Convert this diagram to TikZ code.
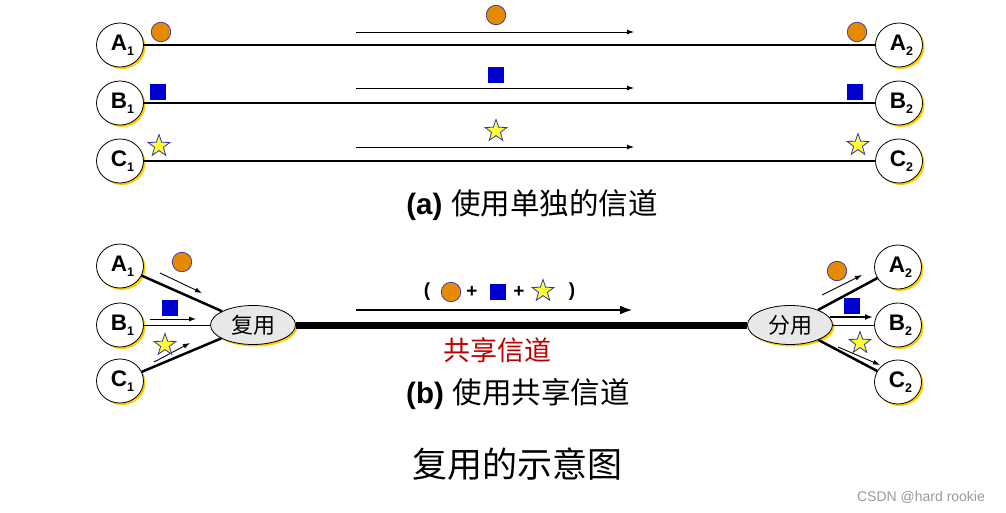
\documentclass[tikz,border=0pt]{standalone}
\usepackage{fontspec}
\newfontfamily\cjk{Noto Sans CJK SC}
\newfontfamily\arial{Liberation Sans}
\usetikzlibrary{shapes.geometric,arrows.meta,shadows}
\definecolor{shy}{HTML}{FFCC00}
\definecolor{dotor}{HTML}{E68A00}
\definecolor{mblue}{HTML}{0000CC}
\definecolor{sedge}{HTML}{3333AA}
\definecolor{styel}{HTML}{FFFF33}
\definecolor{chred}{HTML}{C00000}
\definecolor{ellgray}{HTML}{E8E8E8}
\definecolor{wmgray}{HTML}{999999}
\newcommand\subn[1]{\raisebox{-5pt}{\fontsize{12.5}{12.5}\selectfont #1}}
\begin{document}
\begin{tikzpicture}[x=1pt,y=-1pt,
  ysh/.style={drop shadow={shadow xshift=2pt,shadow yshift=-2pt,fill=shy,opacity=1}},
  station/.style={ellipse, draw=black, line width=0.8pt, fill=white, minimum width=47pt, minimum height=44pt, inner sep=0pt, font=\fontsize{22.5}{22.5}\selectfont\arial\bfseries, ysh},
  muxbox/.style={ellipse, draw=black, line width=0.8pt, fill=ellgray, minimum width=85pt, minimum height=39pt, inner sep=0pt, font=\fontsize{22}{22}\selectfont\cjk, ysh},
  dotm/.style={circle, fill=dotor, draw=sedge, line width=0.7pt, minimum size=19.5pt, inner sep=0pt},
  sqm/.style={rectangle, fill=mblue, draw=none, minimum size=15.5pt, inner sep=0pt},
  starm/.style={star, star points=5, star point ratio=2.5, fill=styel, draw=sedge, line width=0.8pt, minimum size=23pt, inner sep=0pt},
  chan/.style={line width=2pt},
  sarrow/.style={line width=0.9pt, -{Latex[length=7pt,width=5pt]}},
  barrow/.style={line width=2pt, -{Latex[length=8pt,width=6pt]}},
  bigarrow/.style={line width=2.5pt, -{Latex[length=13pt,width=9pt]}},
  sym/.style={inner sep=0pt, font=\fontsize{19}{19}\selectfont\arial\bfseries},
  captxt/.style={inner sep=0pt, font=\fontsize{29.5}{29.5}\selectfont}
]
\useasboundingbox (0,0) rectangle (1006,513);

% ---------- (a) ----------
\node[station] (A1) at (120,45) {\hspace{5pt}A\subn{1}};
\node[station] (B1) at (120,103) {\hspace{5pt}B\subn{1}};
\node[station] (C1) at (120,161) {\hspace{5pt}C\subn{1}};
\node[station] (A2) at (899,45) {\hspace{5pt}A\subn{2}};
\node[station] (B2) at (899,103) {\hspace{5pt}B\subn{2}};
\node[station] (C2) at (899,161) {\hspace{5pt}C\subn{2}};
\draw[chan] (A1) -- (A2);
\draw[chan] (B1) -- (B2);
\draw[chan] (C1) -- (C2);

\node[dotm] (da1) at (161,32) {};
\node[dotm] (da2) at (496,15) {};
\node[dotm] (da3) at (857,32) {};
\node[sqm] (sb1) at (158,92) {};
\node[sqm] (sb2) at (496,75) {};
\node[sqm] (sb3) at (855,92) {};
\node[starm] (sc1) at (159,146) {};
\node[starm] (sc2) at (496,131) {};
\node[starm] (sc3) at (858,145) {};

\coordinate (ta1) at (356,32);  \coordinate (ta2) at (634,32);
\coordinate (tb1) at (356,88);  \coordinate (tb2) at (634,88);
\coordinate (tc1) at (356,147); \coordinate (tc2) at (634,147);
\draw[sarrow] (ta1) -- (ta2);
\draw[sarrow] (tb1) -- (tb2);
\draw[sarrow] (tc1) -- (tc2);

\node[captxt] (capa) at (532,205) {{\arial\bfseries (a)} {\cjk 使用单独的信道}};

% ---------- (b) ----------
\node[station] (A1b) at (120,266) {\hspace{5pt}A\subn{1}};
\node[station] (B1b) at (120,325) {\hspace{5pt}B\subn{1}};
\node[station] (C1b) at (120,381) {\hspace{5pt}C\subn{1}};
\node[station] (A2b) at (898,267) {\hspace{5pt}A\subn{2}};
\node[station] (B2b) at (898,325) {\hspace{5pt}B\subn{2}};
\node[station] (C2b) at (898,382) {\hspace{5pt}C\subn{2}};
\node[muxbox] (mux) at (253,325) {复用};
\node[muxbox] (demux) at (790,325) {分用};

\draw[line width=2.5pt] (A1b) -- (mux);
\draw[line width=1pt] (B1b) -- (mux);
\draw[line width=2.5pt] (C1b) -- (mux);
\draw[line width=7pt] (mux) -- (demux);
\draw[line width=2.5pt] (demux) -- (A2b);
\draw[line width=1pt] (demux) -- (B2b);
\draw[line width=2.5pt] (demux) -- (C2b);

\coordinate (la1) at (160,273); \coordinate (la2) at (202,293);
\coordinate (lb1) at (150,319); \coordinate (lb2) at (196,319);
\coordinate (lc1) at (154,362); \coordinate (lc2) at (190,343);
\draw[sarrow] (la1) -- (la2);
\draw[sarrow] (lb1) -- (lb2);
\draw[sarrow] (lc1) -- (lc2);
\coordinate (ra1) at (822,295); \coordinate (ra2) at (862,275);
\coordinate (rb1) at (830,317); \coordinate (rb2) at (873,317);
\coordinate (rc1) at (838,347); \coordinate (rc2) at (880,365);
\draw[sarrow] (ra1) -- (ra2);
\draw[barrow] (rb1) -- (rb2);
\draw[sarrow] (rc1) -- (rc2);

\node[dotm] (bd1) at (182,262) {};
\node[sqm] (bs1) at (170,308) {};
\node[starm] (bt1) at (165,345) {};
\node[dotm] (bd2) at (837,271) {};
\node[sqm] (bs2) at (852,306) {};
\node[starm] (bt2) at (860,343) {};

\node[sym] (lp) at (427,292) {(};
\node[dotm] (md) at (451,292) {};
\node[sym] (pl1) at (472,292) {+};
\node[sqm] (ms) at (498,292) {};
\node[sym] (pl2) at (519,292) {+};
\node[starm] (mt) at (543,291) {};
\node[sym] (rp) at (572,292) {)};

\coordinate (ma1) at (356,310); \coordinate (ma2) at (633,310);
\draw[bigarrow] (ma1) -- (ma2);

\node[inner sep=0pt, font=\fontsize{27}{27}\selectfont\cjk, text=chred] (shared) at (497,350) {共享信道};
\node[captxt] (capb) at (518,394) {{\arial\bfseries (b)} {\cjk 使用共享信道}};
\node[inner sep=0pt, font=\fontsize{35}{35}\selectfont\cjk] (title) at (517,464) {复用的示意图};
\node[inner sep=0pt, font=\fontsize{14}{14}\selectfont\arial, text=wmgray] (wm) at (921,497) {CSDN @hard rookie};
\end{tikzpicture}
\end{document}
